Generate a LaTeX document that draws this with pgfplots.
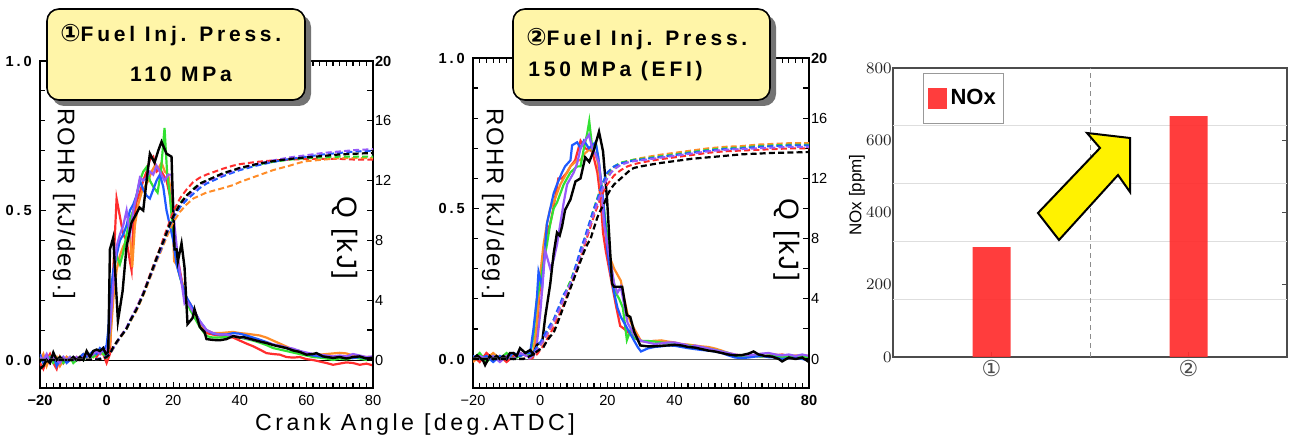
\documentclass[border=0pt]{standalone}
\usepackage{pgfplots}
\pgfplotsset{compat=1.18}
\usepackage{fontspec}
\setmainfont{Liberation Sans}
\newfontfamily\tickfont[LetterSpace=20]{Liberation Sans}
\newfontfamily\spfont[LetterSpace=15]{Liberation Sans}
\newfontfamily\titlefont[LetterSpace=18]{Liberation Sans}
\newfontfamily\labfont[LetterSpace=8]{Liberation Sans}
\newfontfamily\dejavu{DejaVu Sans}
\definecolor{cR}{RGB}{255,45,45}
\definecolor{cO}{RGB}{255,140,40}
\definecolor{cG}{RGB}{50,225,50}
\definecolor{cB}{RGB}{30,90,255}
\definecolor{cP}{RGB}{150,90,250}
\definecolor{boxy}{RGB}{255,245,168}
\definecolor{barred}{RGB}{255,45,45}
\pgfplotsset{
  caaxis/.style={anchor=south west, scale only axis, xmin=-20, xmax=80, ymax=1.0,
    axis line style={line width=1pt}, tick align=inside,
    major tick length=3pt, minor tick length=2.5pt,
    tick style={black, line width=0.6pt},
    xtick={-20,0,20,40,60,80}, minor x tick num=9,
    ytick={0,0.5,1.0}, minor y tick num=4, ytick pos=left,
    yticklabels={\textbf{0.0},\textbf{0.5},\textbf{1.0}},
    yticklabel style={font=\tickfont\fontsize{7.3}{8}\selectfont, inner sep=1pt, xshift=-1.5pt},
    xticklabel style={font=\fontsize{7.3}{8}\selectfont},
    no markers},
  qaxis/.style={anchor=south west, scale only axis, xmin=-20, xmax=80, ymax=20,
    hide x axis, axis y line*=right, axis line style={line width=1pt},
    tick align=inside, major tick length=3pt, minor tick length=3pt,
    tick style={black, line width=0.6pt},
    ytick={0,4,8,12,16,20}, minor y tick num=1,
    yticklabels={0,4,8,12,16,\textbf{20}},
    yticklabel style={font=\fontsize{7.3}{8}\selectfont, inner sep=0.8pt},
    no markers},
  rl/.style={line width=1.1pt},
  ql/.style={line width=1pt, dash pattern=on 3pt off 1.6pt},
}
\begin{document}
\begin{tikzpicture}
\begin{scope}[x=0.5pt,y=-0.5pt]
\useasboundingbox (0,0) rectangle (1292,439);
\end{scope}

% ================= Panel 1 =================
\begin{axis}[caaxis, at={(20pt,-194pt)}, width=166.5pt, height=163.5pt, ymin=-0.0936,
  xticklabels={\textbf{−20},\textbf{0},20,40,60,80}]
\addplot[black, line width=0.5pt] coordinates {(-20,0) (80,0)};
\addplot[cR, rl] coordinates {(-20,-0.01) (-19,-0.03) (-18,0.0) (-17,0.02) (-16,-0.01) (-15,-0.03) (-14,0.01) (-13,-0.01) (-12,0.01) (-11,0.0) (-10,0.0) (-9,0.01) (-8,0.0) (-7,0.01) (-6,0.02) (-5,0.01) (-4,0.02) (-3,0.01) (-2,0.03) (-1,0.02) (0,-0.01) (1,0.02) (2,0.3) (3,0.54) (4,0.48) (5,0.42) (6,0.4) (7,0.33) (7.5,0.3) (8,0.45) (9,0.53) (10,0.56) (11,0.6) (12,0.63) (13,0.67) (14,0.68) (15,0.63) (16,0.64) (17,0.62) (18,0.6) (19,0.55) (20,0.45) (21,0.36) (22,0.3) (23,0.24) (24,0.2) (25,0.19) (26,0.17) (27,0.15) (28,0.12) (29,0.1) (30,0.09) (32,0.085) (34,0.082) (36,0.08) (38,0.075) (40,0.065) (42,0.055) (44,0.046) (46,0.035) (48,0.023) (50,0.02) (52,0.018) (54,0.01) (56,0.008) (58,0.01) (60,0.003) (62,0.0) (64,-0.005) (66,-0.01) (68,-0.016) (70,-0.012) (72,-0.008) (74,-0.01) (76,-0.016) (78,-0.012) (80,-0.018)};
\addplot[cO, rl] coordinates {(-20,0.0) (-19,0.02) (-18,-0.02) (-17,0.01) (-16,0.0) (-15,0.01) (-14,-0.02) (-13,0.0) (-12,0.01) (-11,0.0) (-10,0.01) (-9,0.0) (-8,0.01) (-7,0.02) (-6,0.01) (-5,0.02) (-4,0.01) (-3,0.03) (-2,0.02) (-1,0.02) (0,0.01) (1,0.05) (2,0.2) (3,0.3) (4,0.35) (5,0.38) (6,0.4) (7,0.42) (7.7,0.31) (8.5,0.45) (9.5,0.52) (10.5,0.56) (11.5,0.58) (12.5,0.6) (13.5,0.63) (14.5,0.65) (15.5,0.64) (16.5,0.66) (17.5,0.63) (18.5,0.62) (19.5,0.55) (20.3,0.33) (21,0.32) (22,0.28) (23,0.25) (24,0.2) (25,0.18) (26,0.16) (27,0.14) (28,0.12) (30,0.1) (32,0.09) (34,0.09) (36,0.092) (38,0.094) (40,0.09) (42,0.088) (44,0.085) (46,0.082) (48,0.075) (50,0.065) (52,0.055) (54,0.045) (56,0.035) (58,0.03) (60,0.02) (62,0.02) (64,0.018) (66,0.02) (68,0.022) (70,0.024) (72,0.022) (74,0.015) (76,0.012) (78,0.01) (80,0.01)};
\addplot[cG, rl] coordinates {(-20,0.01) (-19,-0.01) (-18,0.0) (-17,0.01) (-16,-0.01) (-15,0.0) (-14,0.01) (-13,-0.01) (-12,0.0) (-11,0.01) (-10,-0.01) (-9,0.0) (-8,0.01) (-7,0.0) (-6,0.02) (-5,0.01) (-4,0.01) (-3,0.02) (-2,0.03) (-1,0.02) (0,0.01) (1,0.1) (2,0.28) (3,0.35) (4,0.32) (5,0.36) (6,0.42) (7,0.47) (8,0.5) (9,0.55) (10,0.6) (11,0.63) (12,0.645) (13,0.6) (14,0.58) (15.3,0.56) (16.3,0.63) (17.4,0.776) (18.2,0.62) (19,0.55) (20,0.42) (21,0.33) (22,0.28) (23,0.24) (24,0.2) (25,0.17) (26,0.15) (27,0.13) (28,0.11) (30,0.08) (32,0.075) (34,0.075) (36,0.077) (38,0.08) (40,0.075) (42,0.07) (44,0.065) (46,0.058) (48,0.05) (50,0.04) (52,0.035) (54,0.03) (56,0.025) (58,0.02) (60,0.015) (62,0.01) (64,0.008) (66,0.005) (68,0.0) (70,0.005) (72,0.002) (74,0.008) (76,0.005) (78,0.0) (80,0.003)};
\addplot[cB, rl] coordinates {(-20,0.02) (-19,-0.01) (-18,0.01) (-17,0.0) (-16,0.02) (-15,-0.02) (-14,0.0) (-13,0.01) (-12,-0.01) (-11,0.0) (-10,0.01) (-9,0.0) (-8,0.01) (-7,0.02) (-6,0.01) (-5,0.02) (-4,0.03) (-3,0.02) (-2,0.04) (-1,0.03) (0,0.05) (0.5,0.1) (1,0.2) (2,0.3) (3,0.35) (4,0.4) (5,0.42) (6,0.45) (7,0.5) (8,0.52) (9,0.55) (10,0.6) (11,0.57) (12,0.55) (13,0.54) (14,0.57) (15,0.6) (16,0.62) (17,0.58) (18,0.5) (19,0.45) (20,0.4) (21,0.32) (22,0.28) (23,0.24) (24,0.21) (25,0.19) (26,0.17) (27,0.15) (28,0.13) (30,0.1) (32,0.088) (34,0.085) (36,0.085) (38,0.09) (40,0.088) (42,0.082) (44,0.075) (46,0.068) (48,0.06) (50,0.052) (52,0.045) (54,0.04) (56,0.035) (58,0.03) (60,0.02) (62,0.015) (64,0.012) (66,0.01) (68,0.01) (70,0.012) (72,0.008) (74,0.006) (76,0.01) (78,0.005) (80,0.004)};
\addplot[cP, rl] coordinates {(-20,0.01) (-19,0.0) (-18,0.02) (-17,-0.01) (-16,0.01) (-15,0.0) (-14,-0.01) (-13,0.01) (-12,0.0) (-11,0.01) (-10,0.0) (-9,0.01) (-8,0.0) (-7,0.01) (-6,0.02) (-5,0.01) (-4,0.02) (-3,0.03) (-2,0.02) (-1,0.04) (0,0.02) (1,0.1) (2,0.25) (3,0.38) (4,0.42) (5,0.45) (6,0.5) (7,0.42) (8,0.5) (9,0.55) (10,0.61) (11,0.6) (12,0.61) (13,0.63) (14,0.62) (15,0.65) (16,0.63) (17.4,0.6) (18.5,0.62) (19.5,0.62) (20.4,0.45) (21.5,0.33) (22.5,0.26) (23.4,0.19) (24,0.2) (25,0.18) (26,0.16) (27,0.15) (28,0.13) (30,0.1) (32,0.09) (34,0.085) (36,0.085) (38,0.08) (40,0.078) (42,0.072) (44,0.068) (46,0.062) (48,0.058) (50,0.052) (52,0.048) (54,0.042) (56,0.038) (58,0.03) (60,0.025) (62,0.02) (64,0.018) (66,0.015) (68,0.012) (70,0.015) (72,0.012) (74,0.02) (76,0.015) (78,0.01) (80,0.012)};
\addplot[black, line width=1.2pt] coordinates {(-20,-0.03) (-19,-0.02) (-18,0.0) (-17,-0.01) (-16,0.025) (-15,0.0) (-14,0.01) (-13,0.0) (-12,0.0) (-11,0.0) (-10,0.01) (-9,0.0) (-8,0.01) (-7,0.0) (-6,0.03) (-5,0.01) (-4,0.03) (-3,0.035) (-2,0.03) (-1,0.04) (0,0.015) (0.5,0.03) (1,0.37) (2,0.41) (3.4,0.13) (4.8,0.23) (6,0.38) (7.5,0.46) (8.5,0.48) (9.9,0.51) (11,0.5) (12,0.6) (13,0.69) (14.4,0.66) (15.5,0.7) (16.5,0.73) (18,0.69) (19.5,0.68) (20,0.5) (20.4,0.37) (21,0.37) (21.4,0.33) (22.5,0.39) (23.4,0.31) (24.3,0.12) (25.8,0.14) (26.4,0.17) (28,0.11) (29.4,0.094) (30,0.07) (32,0.067) (34,0.066) (36,0.07) (38,0.08) (40,0.075) (41,0.077) (44,0.068) (46,0.062) (48,0.057) (50,0.05) (52,0.045) (54,0.04) (56,0.032) (58,0.027) (60,0.018) (62,0.02) (63,0.023) (65,0.012) (68,0.007) (70,0.01) (72,0.005) (74,0.01) (76,0.012) (78,0.005) (80,0.008)};
\end{axis}
\begin{axis}[qaxis, at={(20pt,-194pt)}, width=166.5pt, height=163.5pt, ymin=-1.873]
\addplot[cR, ql] coordinates {(-20,0) (-10,0) (-4,0.02) (-2,0.08) (0,0.2) (1,0.45) (2,0.85) (3,1.2) (4,1.55) (5,1.85) (6,2.15) (7,2.6) (8,3.05) (9,3.5) (10,4.0) (11,4.5) (12,5.1) (13,5.7) (14,6.3) (15,6.9) (16,7.45) (17,8.1) (18,8.7) (19,9.3) (20,9.9) (22,10.8) (24,11.4) (26,11.9) (28,12.2) (30,12.4) (35,12.8) (38,13.0) (40,13.1) (45,13.25) (50,13.35) (55,13.4) (60,13.45) (65,13.45) (70,13.45) (75,13.4) (80,13.4)};
\addplot[cO, ql] coordinates {(-20,0) (-10,0) (-4,0.02) (-2,0.08) (0,0.2) (1,0.4) (2,0.75) (3,1.1) (4,1.45) (5,1.75) (6,2.05) (7,2.5) (8,2.9) (9,3.3) (10,3.8) (11,4.3) (12,4.85) (13,5.45) (14,6.0) (15,6.6) (16,7.1) (17,7.65) (18,8.2) (19,8.7) (20,9.2) (22,9.9) (24,10.4) (26,10.8) (28,11.0) (30,11.2) (35,11.5) (38,11.7) (40,11.9) (45,12.3) (50,12.7) (55,13.0) (58,13.2) (60,13.3) (65,13.4) (70,13.5) (75,13.5) (80,13.5)};
\addplot[cG, ql] coordinates {(-20,0) (-10,0) (-4,0.02) (-2,0.08) (0,0.2) (1,0.4) (2,0.8) (3,1.15) (4,1.5) (5,1.8) (6,2.1) (7,2.55) (8,3.0) (9,3.4) (10,3.9) (11,4.4) (12,5.0) (13,5.6) (14,6.2) (15,6.8) (16,7.3) (17,7.9) (18,8.5) (19,9.1) (20,9.6) (22,10.5) (24,11.0) (26,11.45) (28,11.8) (30,12.0) (35,12.45) (40,12.8) (45,13.05) (50,13.25) (55,13.4) (60,13.5) (65,13.55) (70,13.6) (75,13.6) (80,13.6)};
\addplot[cB, ql] coordinates {(-20,0) (-10,0) (-4,0.02) (-2,0.1) (0,0.25) (1,0.45) (2,0.8) (3,1.15) (4,1.5) (5,1.8) (6,2.1) (7,2.55) (8,3.0) (9,3.4) (10,3.9) (11,4.4) (12,5.0) (13,5.55) (14,6.1) (15,6.7) (16,7.2) (17,7.8) (18,8.4) (19,9.0) (20,9.5) (22,10.2) (24,10.7) (26,11.1) (28,11.5) (30,11.8) (35,12.3) (40,12.7) (45,13.0) (50,13.25) (55,13.45) (60,13.6) (65,13.75) (70,13.85) (75,13.95) (80,14.0)};
\addplot[cP, ql] coordinates {(-20,0) (-10,0) (-4,0.02) (-2,0.08) (0,0.2) (1,0.4) (2,0.8) (3,1.15) (4,1.5) (5,1.85) (6,2.2) (7,2.65) (8,3.1) (9,3.5) (10,4.0) (11,4.5) (12,5.05) (13,5.6) (14,6.2) (15,6.8) (16,7.3) (17,7.9) (18,8.5) (19,9.1) (20,9.6) (22,10.4) (24,10.9) (26,11.3) (28,11.7) (30,11.95) (35,12.4) (40,12.8) (45,13.1) (50,13.35) (55,13.55) (60,13.7) (65,13.85) (70,13.95) (75,14.05) (80,14.1)};
\addplot[black, ql, line width=1.1pt] coordinates {(-20,0) (-10,0) (-4,0.02) (-2,0.05) (-1,0.1) (0,0.2) (1,0.4) (2,0.87) (3,1.2) (4,1.5) (5,1.8) (6,2.1) (7,2.6) (8,3.0) (9,3.4) (10,3.9) (11,4.4) (12,5.0) (13,5.6) (14,6.2) (15,6.8) (16,7.4) (17,7.9) (18,8.5) (19,9.1) (20,9.6) (21,10.0) (22,10.4) (23,10.7) (24,11.0) (25,11.2) (26,11.4) (28,11.8) (30,12.0) (32,12.2) (35,12.5) (38,12.7) (40,12.85) (45,13.1) (50,13.3) (55,13.45) (60,13.55) (65,13.65) (70,13.75) (75,13.8) (80,13.85)};
\end{axis}

% ================= Panel 2 =================
\begin{axis}[caaxis, at={(236.5pt,-194pt)}, width=168pt, height=165pt, ymin=-0.0963,
  xticklabels={−20,0,20,40,\textbf{60},\textbf{80}}]
\addplot[black!60, line width=0.5pt] coordinates {(-20,0) (80,0)};
\addplot[cR, rl] coordinates {(-20,0.01) (-18,-0.01) (-16,0.02) (-14,0.0) (-12,0.01) (-10,-0.01) (-8,0.01) (-6,0.02) (-4,0.01) (-3,0.02) (-2,0.02) (-1,0.1) (0,0.25) (1,0.35) (2,0.42) (3,0.45) (3.9,0.5) (5.4,0.6) (6.5,0.6) (8,0.62) (9,0.64) (10.4,0.66) (12,0.725) (13.4,0.7) (15.5,0.69) (17,0.62) (18,0.53) (18.7,0.42) (19.5,0.36) (20.5,0.3) (21.5,0.24) (22.5,0.18) (23.8,0.11) (25,0.1) (26,0.09) (28,0.07) (30,0.06) (32,0.058) (34,0.06) (36,0.058) (38,0.055) (40,0.05) (42,0.048) (44,0.045) (46,0.04) (48,0.038) (50,0.035) (52,0.03) (54,0.022) (56,0.015) (58,0.01) (60,0.008) (62,0.01) (64,0.012) (66,0.01) (68,0.008) (70,0.012) (72,0.015) (74,0.01) (76,0.008) (78,0.012) (80,0.01)};
\addplot[cO, rl] coordinates {(-20,-0.01) (-18,0.01) (-16,0.0) (-14,0.02) (-12,0.0) (-10,0.01) (-8,0.02) (-6,0.01) (-4,0.02) (-3,0.02) (-2,0.02) (-1,0.12) (0,0.28) (1,0.38) (2,0.45) (3,0.5) (4,0.52) (5,0.55) (6,0.58) (7,0.6) (8,0.62) (9,0.64) (10,0.65) (11,0.66) (12,0.66) (13,0.68) (14,0.69) (15,0.7) (16,0.69) (17,0.66) (18,0.58) (19,0.45) (20,0.38) (21,0.33) (22,0.3) (23,0.28) (24,0.26) (25,0.2) (26,0.15) (27,0.12) (28,0.1) (29,0.08) (30,0.06) (32,0.058) (34,0.06) (36,0.062) (38,0.058) (40,0.055) (42,0.05) (44,0.048) (46,0.045) (48,0.042) (50,0.04) (52,0.035) (54,0.028) (56,0.02) (58,0.015) (60,0.012) (62,0.01) (64,0.01) (66,0.008) (68,0.012) (70,0.015) (72,0.01) (74,0.008) (76,0.012) (78,0.01) (80,0.01)};
\addplot[cG, rl] coordinates {(-20,0.0) (-18,0.02) (-16,-0.01) (-14,0.01) (-12,0.0) (-10,0.02) (-8,0.0) (-6,0.01) (-4,0.02) (-3,0.01) (-2,0.08) (-1,0.2) (0,0.25) (1,0.32) (2,0.38) (3,0.45) (4,0.5) (5,0.52) (6,0.55) (7,0.58) (8,0.6) (9,0.62) (10,0.63) (11,0.64) (12,0.64) (13,0.7) (14,0.75) (14.6,0.79) (15.5,0.7) (16.5,0.72) (17.5,0.65) (18.5,0.55) (19.5,0.45) (20.5,0.36) (21.5,0.28) (22.5,0.22) (23.5,0.2) (24.6,0.17) (25.8,0.063) (27,0.1) (28,0.07) (30,0.06) (32,0.06) (34,0.058) (36,0.055) (38,0.052) (40,0.05) (42,0.048) (44,0.045) (46,0.042) (48,0.038) (50,0.035) (52,0.03) (54,0.025) (56,0.02) (58,0.01) (60,0.005) (62,0.008) (64,0.01) (66,0.008) (68,0.012) (70,0.01) (72,0.005) (74,0.01) (76,0.008) (78,0.01) (80,0.005)};
\addplot[cB, rl] coordinates {(-20,0.01) (-18,0.0) (-16,0.01) (-14,-0.01) (-12,0.01) (-10,0.0) (-8,0.02) (-6,0.01) (-4,0.02) (-3,0.02) (-2,0.1) (-1,0.2) (-0.5,0.29) (0.6,0.24) (1.5,0.38) (2,0.45) (3,0.5) (4,0.55) (5,0.58) (6.5,0.62) (7.4,0.64) (9,0.66) (9.5,0.71) (11,0.72) (12,0.7) (13,0.725) (14.5,0.7) (16.5,0.72) (17.3,0.67) (18.7,0.53) (20,0.36) (21,0.28) (22,0.22) (23,0.17) (24,0.14) (25,0.12) (26,0.1) (27,0.08) (28,0.06) (29,0.04) (30,0.025) (31,0.03) (32,0.035) (34,0.04) (36,0.042) (38,0.045) (40,0.044) (42,0.04) (44,0.036) (46,0.033) (48,0.03) (50,0.028) (52,0.025) (54,0.02) (56,0.012) (58,0.005) (60,0.003) (62,0.005) (64,0.008) (66,0.01) (68,0.006) (70,0.005) (72,0.0) (74,0.003) (76,0.005) (78,0.0) (80,-0.005)};
\addplot[cP, rl] coordinates {(-20,0.0) (-18,0.01) (-16,0.0) (-14,0.01) (-12,-0.01) (-10,0.01) (-8,0.0) (-6,0.02) (-4,0.01) (-2,0.01) (-1,0.05) (0,0.15) (1.5,0.36) (3,0.3) (4,0.33) (5,0.38) (6,0.45) (7,0.52) (8,0.58) (9,0.6) (10,0.62) (11,0.65) (12,0.7) (13,0.72) (14.5,0.745) (15.5,0.7) (16.5,0.68) (17.5,0.65) (18.3,0.56) (19,0.45) (20,0.38) (21,0.32) (22,0.25) (23,0.22) (24,0.24) (25,0.18) (26,0.12) (27,0.1) (28,0.08) (30,0.06) (32,0.055) (34,0.05) (36,0.052) (38,0.055) (40,0.055) (42,0.05) (43.5,0.047) (44.6,0.04) (46,0.045) (48,0.04) (50,0.035) (52,0.03) (54,0.025) (56,0.02) (58,0.015) (60,0.012) (62,0.012) (64,0.015) (66,0.018) (68,0.02) (70,0.015) (72,0.012) (74,0.015) (76,0.01) (78,0.015) (80,0.01)};
\addplot[black, line width=1.2pt] coordinates {(-20,0.0) (-18.8,0.012) (-17,-0.005) (-16.4,-0.02) (-15,0.01) (-14,0.0) (-13,0.01) (-12,0.0) (-11,0.01) (-10,0.0) (-9,0.02) (-8,0.02) (-7,0.01) (-6,0.036) (-4.4,0.02) (-3,0.03) (-2,0.015) (-1,0.047) (0.6,0.057) (1.5,0.14) (3,0.25) (4,0.35) (5,0.42) (5.8,0.41) (6.5,0.44) (7.4,0.495) (9,0.53) (10.5,0.59) (12,0.6) (13.4,0.67) (14.6,0.655) (16,0.695) (17.5,0.755) (18.7,0.69) (19.9,0.53) (20.8,0.36) (21.4,0.25) (22,0.24) (24.4,0.24) (25.8,0.146) (26.8,0.14) (28,0.09) (29.8,0.045) (32,0.042) (34,0.042) (36,0.044) (38,0.045) (40,0.047) (42,0.045) (44,0.04) (46,0.038) (48,0.033) (50,0.028) (52,0.025) (54,0.02) (56,0.015) (58,0.012) (60,0.013) (62,0.018) (63.5,0.025) (65,0.015) (67,0.01) (69,0.008) (71,0.0) (72,-0.008) (74,0.005) (76,0.0) (78,0.005) (80,-0.01)};
\end{axis}
\begin{axis}[qaxis, at={(236.5pt,-194pt)}, width=168pt, height=165pt, ymin=-1.927]
\addplot[cR, ql] coordinates {(-20,0) (-3,0) (-2,0.1) (-1,0.3) (0,0.6) (1,0.9) (2,1.3) (3,1.7) (4,2.1) (5,2.6) (6,3.1) (7,3.6) (8,4.2) (9,4.8) (10,5.4) (11,6.0) (12,6.7) (13,7.4) (14,8.1) (15,8.8) (16,9.5) (17,10.1) (18,10.7) (19,11.2) (20,11.6) (21,11.9) (22,12.2) (24,12.55) (26,12.8) (28,12.95) (30,13.05) (35,13.25) (40,13.4) (45,13.55) (50,13.7) (55,13.8) (60,13.85) (65,13.9) (70,13.95) (75,14.0) (80,14.0)};
\addplot[cO, ql] coordinates {(-20,0) (-4,0) (-3,0.05) (-2,0.25) (-1,0.55) (0,0.85) (1,1.2) (2,1.6) (3,2.0) (4,2.4) (5,2.9) (6,3.4) (7,4.0) (8,4.5) (9,5.0) (10,5.6) (11,6.2) (12,6.9) (13,7.6) (14,8.3) (15,9.0) (16,9.7) (17,10.4) (18,11.0) (19,11.6) (20,12.1) (21,12.45) (22,12.7) (24,13.0) (26,13.15) (28,13.25) (30,13.35) (35,13.55) (40,13.7) (45,13.85) (50,14.0) (55,14.1) (60,14.15) (65,14.25) (70,14.3) (75,14.35) (80,14.35)};
\addplot[cG, ql] coordinates {(-20,0) (-4,0) (-3,0.1) (-2,0.35) (-1,0.7) (0,1.0) (1,1.4) (2,1.8) (3,2.2) (4,2.6) (5,3.1) (6,3.6) (7,4.2) (8,4.7) (9,5.2) (10,5.8) (11,6.4) (12,7.1) (13,7.8) (14,8.5) (15,9.3) (16,10.0) (17,10.7) (18,11.3) (19,11.9) (20,12.3) (21,12.6) (22,12.8) (24,13.05) (26,13.15) (28,13.25) (30,13.3) (35,13.45) (40,13.6) (45,13.75) (50,13.9) (55,14.0) (60,14.05) (65,14.15) (70,14.2) (75,14.25) (80,14.25)};
\addplot[cB, ql] coordinates {(-20,0) (-4,0) (-3,0.1) (-2,0.45) (-1,0.8) (0,1.1) (1,1.5) (2,1.9) (3,2.3) (4,2.6) (5,3.2) (6,3.7) (7,4.3) (8,4.6) (9,5.0) (10,5.8) (11,6.5) (12,7.3) (13,7.9) (14,8.6) (15,9.3) (16,10.0) (17,10.6) (18,11.3) (19,11.9) (20,12.4) (21,12.6) (22,12.8) (24,13.0) (26,13.1) (28,13.2) (30,13.25) (35,13.4) (40,13.55) (45,13.7) (50,13.85) (55,13.95) (60,14.0) (65,14.1) (70,14.15) (75,14.2) (80,14.2)};
\addplot[cP, ql] coordinates {(-20,0) (-4,0) (-3,0.05) (-2,0.3) (-1,0.6) (0,0.9) (1,1.25) (2,1.65) (3,2.05) (4,2.45) (5,2.95) (6,3.45) (7,4.05) (8,4.55) (9,5.05) (10,5.6) (11,6.2) (12,6.9) (13,7.6) (14,8.3) (15,9.0) (16,9.7) (17,10.35) (18,11.0) (19,11.55) (20,12.0) (21,12.35) (22,12.6) (24,12.9) (26,13.05) (28,13.15) (30,13.2) (35,13.35) (40,13.5) (45,13.65) (50,13.8) (55,13.9) (60,13.95) (65,14.0) (70,14.05) (75,14.1) (80,14.1)};
\addplot[black, ql, line width=1.1pt] coordinates {(-20,0) (-5,0) (-4,0.1) (-3,0.2) (-2,0.3) (-1,0.5) (0,0.65) (1,0.8) (2,1.2) (3,1.5) (4,1.75) (5,2.3) (6,2.9) (7,3.5) (8,4.1) (9,4.7) (10,5.3) (11,5.9) (12,6.5) (13,7.1) (14,7.6) (15,8.0) (16,8.7) (17,9.4) (18,9.9) (19,10.3) (20,10.9) (21,11.3) (22,11.6) (23,11.8) (24,12.0) (25,12.2) (26,12.4) (27,12.6) (28,12.7) (30,12.8) (35,13.0) (40,13.15) (45,13.3) (50,13.4) (55,13.5) (60,13.6) (65,13.65) (70,13.7) (75,13.72) (80,13.75)};
\end{axis}

% ================= Panel 3 (NOx) =================
\begin{axis}[at={(446.5pt,-178.5pt)}, anchor=south west, scale only axis,
  width=197pt, height=144.5pt, xmin=0.5, xmax=2.5, ymin=0, ymax=800,
  xtick={1,2}, xticklabels={{\dejavu ①},{\dejavu ②}},
  xticklabel style={font=\fontsize{11}{12}\selectfont, text=black!70, inner sep=1.5pt},
  ytick={0,200,400,600,800}, ytick pos=right, yticklabel pos=left, xtick pos=bottom,
  yticklabel style={font=\fontsize{8.5}{9}\selectfont, text=black!85, inner sep=0.5pt},
  tick align=inside, major tick length=2.5pt,
  axis line style={black!70, line width=0.8pt}, tick style={black!70, line width=0.5pt},
  legend style={at={(rel axis cs:0.076,0.983)}, anchor=north west, draw=black!40, line width=0.6pt,
    font=\bfseries\fontsize{11}{12}\selectfont, inner xsep=2pt, inner ysep=6pt},
  legend image code/.code={\fill[barred] (0pt,-5.2pt) rectangle (9.5pt,5.2pt);},
  ]
\draw[black!13, line width=0.5pt] (axis cs:0.5,160) -- (axis cs:2.5,160);
\draw[black!13, line width=0.5pt] (axis cs:0.5,320) -- (axis cs:2.5,320);
\draw[black!13, line width=0.5pt] (axis cs:0.5,480) -- (axis cs:2.5,480);
\draw[black!13, line width=0.5pt] (axis cs:0.5,640) -- (axis cs:2.5,640);
\draw[black!45, line width=0.5pt, dash pattern=on 2.5pt off 2pt] (axis cs:1.5,0) -- (axis cs:1.5,800);
\addplot[ybar, bar width=19pt, bar shift=0pt, fill=barred, fill opacity=0.92, draw=none] coordinates {(1,304) (2,667)};
\addlegendentry{NOx}
\end{axis}

\begin{scope}[x=0.5pt,y=-0.5pt]
% arrow
\draw[fill=yellow, line width=1pt, line join=miter] (1130,138) -- (1087,133) -- (1100,148) -- (1038,213) -- (1059,240) -- (1118,175) -- (1130,192) -- cycle;
% NOx label
\node[rotate=90, font=\fontsize{8.5}{9}\selectfont] at (857,195) {NOx [ppm]};
% axis labels
\node[rotate=-90, font=\labfont\fontsize{12}{13}\selectfont] at (64,204) {ROHR [kJ/deg.]};
\node[rotate=-90, font=\labfont\fontsize{14}{15}\selectfont] at (345,238) {Q [kJ]};
\node[rotate=-90, font=\labfont\fontsize{12}{13}\selectfont] at (493,204) {ROHR [kJ/deg.]};
\node[rotate=-90, font=\labfont\fontsize{14}{15}\selectfont] at (787,240) {Q [kJ]};
\node[font=\spfont\fontsize{11.6}{13}\selectfont] at (415,425) {Crank Angle [deg.ATDC]};
% title box 1
\fill[black!55, rounded corners=6pt] (52,15) rectangle (311,106);
\draw[line width=0.8pt, fill=boxy, rounded corners=6pt] (47,9) rectangle (305,100);
\node[anchor=base west, inner sep=0pt, font=\titlefont\bfseries\fontsize{10.5}{12}\selectfont] at (60,42) {{\dejavu\fontsize{12}{12}\selectfont ①}Fuel Inj. Press.};
\node[anchor=base, inner sep=0pt, font=\titlefont\bfseries\fontsize{10.5}{12}\selectfont] at (181,82) {110 MPa};
% title box 2
\fill[black!55, rounded corners=6pt] (518,15) rectangle (776,106);
\draw[line width=0.8pt, fill=boxy, rounded corners=6pt] (513,9) rectangle (770,100);
\node[anchor=base west, inner sep=0pt, font=\titlefont\bfseries\fontsize{10.5}{12}\selectfont] at (526,46) {{\dejavu\fontsize{12}{12}\selectfont ②}Fuel Inj. Press.};
\node[anchor=base west, inner sep=0pt, font=\titlefont\bfseries\fontsize{10.5}{12}\selectfont] at (528,77) {150 MPa (EFI)};
\end{scope}
\end{tikzpicture}
\end{document}
